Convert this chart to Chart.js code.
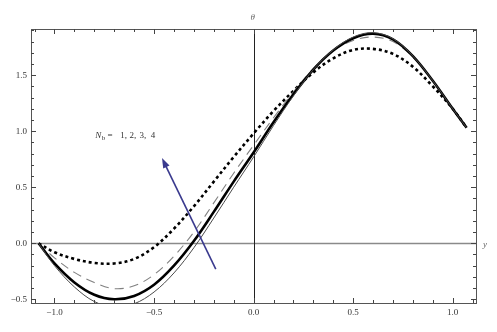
<!DOCTYPE html>
<html>
<head>
<meta charset="utf-8">
<script src="https://cdn.jsdelivr.net/npm/chart.js@4.4.1/dist/chart.umd.min.js"></script>
<style>
html,body{margin:0;padding:0;background:#fff;}
#wrap{width:497px;height:332px;}
</style>
</head>
<body>
<div id="wrap"><canvas id="c" width="497" height="332"></canvas></div>
<script>
// ---- data ----
const xs = [-1.08,-1.0,-0.9,-0.8,-0.7,-0.6,-0.5,-0.4,-0.3,-0.2,-0.1,0,0.1,0.2,0.3,0.4,0.5,0.6,0.7,0.8,0.9,1.0,1.07];
const thetaNb1 = [0,-0.20,-0.39,-0.52,-0.57,-0.54,-0.435,-0.265,-0.04,0.225,0.50,0.77,1.05,1.315,1.55,1.725,1.84,1.88,1.825,1.67,1.45,1.20,1.03];
const thetaNb2 = [0,-0.18,-0.35,-0.46,-0.50,-0.47,-0.37,-0.20,0.02,0.28,0.55,0.81,1.08,1.33,1.55,1.72,1.83,1.87,1.82,1.67,1.45,1.20,1.03];
const thetaNb3 = [0,-0.13,-0.26,-0.35,-0.405,-0.38,-0.28,-0.115,0.10,0.36,0.625,0.875,1.12,1.35,1.56,1.72,1.81,1.84,1.80,1.66,1.45,1.20,1.03];
const thetaNb4 = [0,-0.08,-0.14,-0.175,-0.18,-0.14,-0.035,0.13,0.33,0.55,0.77,0.98,1.18,1.36,1.525,1.65,1.725,1.735,1.69,1.575,1.40,1.20,1.03];
const seriesLabels = ["N_b = 1","N_b = 2","N_b = 3","N_b = 4"];
const xTickValues = [-1.0,-0.5,0.0,0.5,1.0];
const xTickLabels = ["\u22121.0","\u22120.5","0.0","0.5","1.0"];
const yTickValues = [-0.5,0.0,0.5,1.0,1.5];
const yTickLabels = ["\u22120.5","0.0","0.5","1.0","1.5"];
const xRange = [-1.118,1.117];
const yRange = [-0.533,1.912];
const arrowFrom = {x:-0.19,y:-0.23};
const arrowTo = {x:-0.46,y:0.76};
const noteParts = ["=","1,","2,","3,","4"];
const notePos = {x:-0.795,y:0.94};

const pts = arr => xs.map((x,i)=>({x:x,y:arr[i]}));

const framePlugin = {
  id:'frame',
  beforeDatasetsDraw(chart){
    const {ctx, chartArea:a, scales:{x,y}} = chart;
    ctx.save();
    ctx.strokeStyle='#8a8a8a'; ctx.lineWidth=1.6;
    const y0=Math.round(y.getPixelForValue(0))+0.5;
    ctx.beginPath(); ctx.moveTo(a.left,y0); ctx.lineTo(a.right,y0); ctx.stroke();
    ctx.strokeStyle='#222'; ctx.lineWidth=1;
    const x0=Math.round(x.getPixelForValue(0))+0.5;
    ctx.beginPath(); ctx.moveTo(x0,a.top); ctx.lineTo(x0,a.bottom); ctx.stroke();
    ctx.restore();
  },
  afterDatasetsDraw(chart){
    const {ctx, chartArea:a, scales:{x,y}} = chart;
    ctx.save();
    ctx.strokeStyle='#555'; ctx.lineWidth=1;
    ctx.strokeRect(Math.round(a.left)+0.5, Math.round(a.top)+0.5, Math.round(a.right-a.left), Math.round(a.bottom-a.top));
    ctx.strokeStyle='#444';
    for(let k=-11;k<=11;k++){
      const v=k/10; const major=(k%5===0);
      const px=Math.round(x.getPixelForValue(v))+0.5;
      if(px<a.left||px>a.right) continue;
      const L = major?5:3;
      ctx.beginPath();
      ctx.moveTo(px,a.bottom); ctx.lineTo(px,a.bottom-L);
      ctx.moveTo(px,a.top); ctx.lineTo(px,a.top+L);
      ctx.stroke();
    }
    for(let k=-5;k<=19;k++){
      const v=k/10; const major=(k%5===0);
      const py=Math.round(y.getPixelForValue(v))+0.5;
      if(py<a.top||py>a.bottom) continue;
      const L = major?5:3;
      ctx.beginPath();
      ctx.moveTo(a.left,py); ctx.lineTo(a.left+L,py);
      ctx.moveTo(a.right,py); ctx.lineTo(a.right-L,py);
      ctx.stroke();
    }
    // arrow
    const ax1=x.getPixelForValue(arrowFrom.x), ay1=y.getPixelForValue(arrowFrom.y);
    const ax2=x.getPixelForValue(arrowTo.x), ay2=y.getPixelForValue(arrowTo.y);
    const ang=Math.atan2(ay2-ay1,ax2-ax1);
    ctx.strokeStyle='#3a3a8e'; ctx.fillStyle='#3a3a8e'; ctx.lineWidth=1.6;
    ctx.beginPath(); ctx.moveTo(ax1,ay1);
    ctx.lineTo(ax2-8*Math.cos(ang), ay2-8*Math.sin(ang)); ctx.stroke();
    ctx.beginPath();
    ctx.moveTo(ax2,ay2);
    ctx.lineTo(ax2-10*Math.cos(ang)+3.5*Math.sin(ang), ay2-10*Math.sin(ang)-3.5*Math.cos(ang));
    ctx.lineTo(ax2-10*Math.cos(ang)-3.5*Math.sin(ang), ay2-10*Math.sin(ang)+3.5*Math.cos(ang));
    ctx.closePath(); ctx.fill();
    // note text N_b = 1, 2, 3, 4
    const tx=x.getPixelForValue(notePos.x), ty=y.getPixelForValue(notePos.y);
    ctx.fillStyle='#333'; ctx.textBaseline='alphabetic'; ctx.textAlign='left';
    ctx.font='italic 9px "Liberation Serif"';
    ctx.fillText('N',tx,ty);
    ctx.font='7px "Liberation Serif"';
    ctx.fillText('b',tx+6.5,ty+2);
    ctx.font='9px "Liberation Serif"';
    const offs=[12.3,25,34.3,44.3,55.5];
    noteParts.forEach((p,i)=>ctx.fillText(p,tx+offs[i],ty));
    // axis names
    ctx.fillStyle='#666';
    ctx.font='italic 9px "Liberation Serif"'; ctx.textAlign='center';
    ctx.fillText('\u03b8', x.getPixelForValue(0)-1, a.top-9);
    ctx.textAlign='left'; ctx.textBaseline='middle';
    ctx.fillText('y', a.right+7, y.getPixelForValue(0)+1);
    ctx.restore();
  }
};

const tickFont = {family:'"Liberation Serif"', size:9};
const common = {pointRadius:0, tension:0.35, fill:false};

new Chart(document.getElementById('c'),{
  type:'line',
  data:{
    datasets:[
      Object.assign({label:seriesLabels[0], data:pts(thetaNb1), borderColor:'#4a4a4a', borderWidth:1}, common),
      Object.assign({label:seriesLabels[1], data:pts(thetaNb2), borderColor:'#000', borderWidth:2.6}, common),
      Object.assign({label:seriesLabels[2], data:pts(thetaNb3), borderColor:'#808080', borderWidth:1.1, borderDash:[9,6]}, common),
      Object.assign({label:seriesLabels[3], data:pts(thetaNb4), borderColor:'#000', borderWidth:2.6, borderDash:[3,3]}, common)
    ]
  },
  options:{
    responsive:false, animation:false, devicePixelRatio:1,
    layout:{padding:{left:0,right:21,top:29,bottom:0}},
    plugins:{legend:{display:false}, tooltip:{enabled:false}},
    scales:{
      x:{type:'linear', min:xRange[0], max:xRange[1],
         grid:{display:false, drawTicks:false}, border:{display:false},
         afterBuildTicks:s=>{s.ticks = xTickValues.map(v=>({value:v}));},
         afterFit:s=>{s.height=29;},
         ticks:{autoSkip:false, maxRotation:0, padding:4, color:'#333', font:tickFont,
           callback:(v)=>{const i=xTickValues.findIndex(t=>Math.abs(t-v)<1e-9); return i>=0?xTickLabels[i]:'';}}
      },
      y:{type:'linear', min:yRange[0], max:yRange[1],
         grid:{display:false, drawTicks:false}, border:{display:false},
         afterBuildTicks:s=>{s.ticks = yTickValues.map(v=>({value:v}));},
         afterFit:s=>{s.width=31;},
         ticks:{autoSkip:false, padding:4, color:'#333', font:tickFont,
           callback:(v)=>{const i=yTickValues.findIndex(t=>Math.abs(t-v)<1e-9); return i>=0?yTickLabels[i]:'';}}
      }
    }
  },
  plugins:[framePlugin]
});
</script>
</body>
</html>
